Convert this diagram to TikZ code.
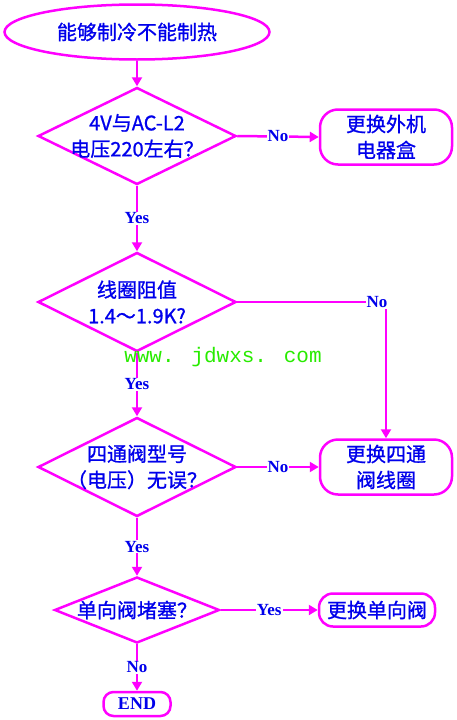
\documentclass[tikz,border=0pt]{standalone}
\usepackage{fontspec}
\setmainfont{Liberation Serif}
\newfontfamily\cjk[FakeBold=1]{Noto Sans CJK SC}
\newfontfamily\markfont{Liberation Mono}
\usetikzlibrary{shapes.geometric,arrows.meta}
\definecolor{flowpink}{RGB}{255,0,255}
\definecolor{flowblue}{RGB}{0,0,235}
\definecolor{markgreen}{RGB}{40,235,0}
\tikzset{
	line/.style={flowpink,line width=2.5pt},
	arr/.style={line,-{Triangle[length=9pt,width=10pt]}},
	txt/.style={text=flowblue,font=\cjk\fontsize{20}{26}\selectfont,align=center,inner sep=0pt},
	dia/.style={diamond,draw=flowpink,line width=2.5pt,inner sep=0pt},
	stadium/.style={rectangle,draw=flowpink,line width=2.5pt,rounded corners=18pt,inner sep=0pt},
	yn/.style={text=flowblue,font=\bfseries\fontsize{17}{17}\selectfont,fill=white,inner sep=1pt},
}
\begin{document}
\begin{tikzpicture}[x=1pt,y=-1pt]
				\useasboundingbox (0,0) rectangle (456,720);
				% start
				\node[ellipse,draw=flowpink,line width=2.5pt,minimum width=265pt,minimum height=55pt,txt] (top) at (137,32) {能够制冷不能制热};
				% decisions
				\node[dia,minimum width=198pt,minimum height=97pt] (d1) at (137,136) {};
				\node[txt] (d1t) at (d1) {4V与AC-L2\\电压220左右？};
				\node[dia,minimum width=198pt,minimum height=99pt] (d2) at (137,302) {};
				\node[txt] (d2t) at (d2) {线圈阻值\\1.4～1.9K?};
				\node[dia,minimum width=198pt,minimum height=99pt] (d3) at (137,467) {};
				\node[txt] (d3t) at (d3) {四通阀型号\\（电压）无误？};
				\node[dia,minimum width=165pt,minimum height=66pt] (d4) at (137,610) {};
				\node[txt] (d4t) at (d4) {单向阀堵塞？};
				% actions
				\node[stadium,minimum width=132pt,minimum height=55pt,txt] (b1) at (386,137) {更换外机\\电器盒};
				\node[stadium,minimum width=132pt,minimum height=55pt,txt] (b2) at (386,467) {更换四通\\阀线圈};
				\node[stadium,rounded corners=14pt,minimum width=116pt,minimum height=33pt,txt] (b3) at (377,610) {更换单向阀};
				\node[stadium,rounded corners=10pt,minimum width=67pt,minimum height=24pt,text=flowblue,font=\bfseries\fontsize{18}{18}\selectfont] (end) at (137,704) {END};
				% connectors
				\draw[arr] (top.south) -- (d1.north);
				\draw[arr] (d1.east) -- (b1.west) node[yn,pos=0.5] (n1) {No};
				\draw[arr] (d1.south) -- (d2.north) node[yn,pos=0.5] (y1) {Yes};
				\draw[arr] (d2.east) -| (b2.north) node[yn,pos=0.5,xshift=-9pt] (n2) {No};
				\draw[arr] (d2.south) -- (d3.north) node[yn,pos=0.5] (y2) {Yes};
				\draw[arr] (d3.east) -- (b2.west) node[yn,pos=0.5] (n3) {No};
				\draw[arr] (d3.south) -- (d4.north) node[yn,pos=0.5] (y3) {Yes};
				\draw[arr] (d4.east) -- (b3.west) node[yn,pos=0.5] (y4) {Yes};
				\draw[arr] (d4.south) -- (end.north) node[yn,pos=0.5] (n4) {No};
				% watermark
				\node[text=markgreen,font=\markfont\fontsize{21}{21}\selectfont] (mark) at (223,357) {www. jdwxs. com};
\end{tikzpicture}
\end{document}
